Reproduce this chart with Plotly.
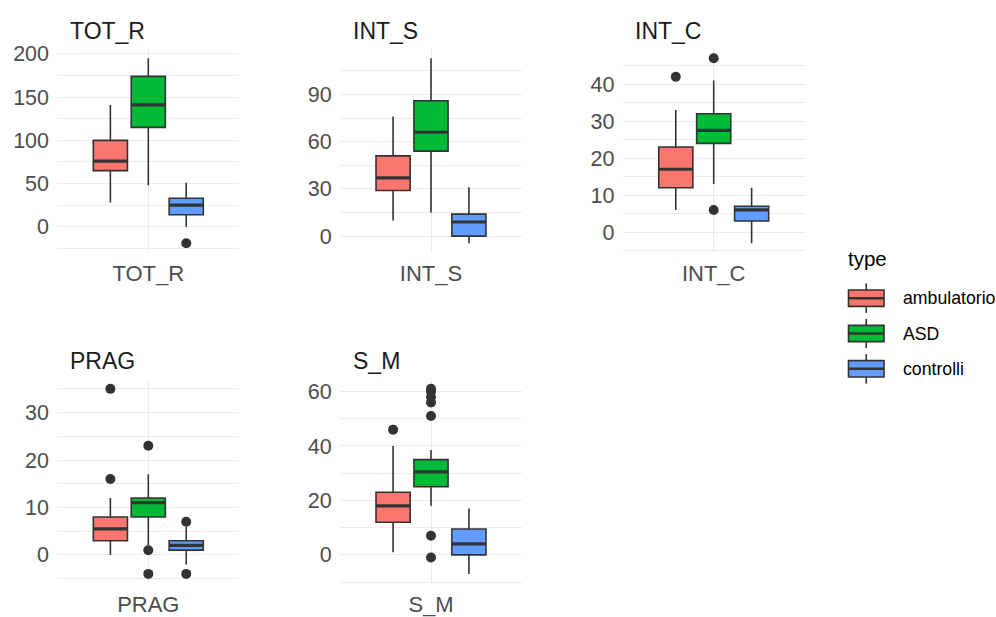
import plotly.graph_objects as go

# Measures (one facet each) and the three subject groups
measures = ["TOT_R", "INT_S", "INT_C", "PRAG", "S_M"]
groups = ["ambulatorio", "ASD", "controlli"]

# Box statistics per group, listed in the order of `measures`
amb_lower = [28, 10, 6, 0, 1]
amb_q1 = [65, 29, 12, 3, 12]
amb_median = [76, 37, 17, 5.5, 18]
amb_q3 = [100, 51, 23, 8, 23]
amb_upper = [141, 76, 33, 12, 40]
amb_outliers = [[], [], [42], [35, 16], [46]]

asd_lower = [48, 15, 13, 2, 18]
asd_q1 = [115, 54, 24, 8, 25]
asd_median = [141, 66, 27.5, 11, 30.5]
asd_q3 = [174, 86, 32, 12, 35]
asd_upper = [195, 113, 41, 17, 38.5]
asd_outliers = [[], [], [47, 6], [23, 1, -4], [61, 60, 58, 56, 51, 7, -1]]

ctl_lower = [0, -4.5, -3, -2, -7]
ctl_q1 = [14, 0, 3, 1, 0]
ctl_median = [25, 9, 6, 2, 4]
ctl_q3 = [33, 14, 7, 3, 9.5]
ctl_upper = [51, 31, 12, 6, 17]
ctl_outliers = [[-19], [], [], [7, -4], []]

# Major tick step of each facet's y scale
y_steps = [50, 30, 10, 10, 20]

stats = {
    "ambulatorio": (amb_lower, amb_q1, amb_median, amb_q3, amb_upper, amb_outliers),
    "ASD": (asd_lower, asd_q1, asd_median, asd_q3, asd_upper, asd_outliers),
    "controlli": (ctl_lower, ctl_q1, ctl_median, ctl_q3, ctl_upper, ctl_outliers),
}

# ---- styling ----
FONT = "Liberation Sans, Arial, Helvetica, sans-serif"
FILLS = {"ambulatorio": "#F8766D", "ASD": "#00BA38", "controlli": "#619CFF"}
EDGE = "#333333"
GRID = "#EBEBEB"
W, H = 996, 617

# facet placement in pixels (left, top); each panel 182 x 207.6
PANEL_W, PANEL_H = 182.0, 207.6
panel_pos = [(57.3, 43.8), (340.0, 43.8), (622.7, 43.8), (57.3, 381.0), (340.0, 381.0)]
dodge = [-0.25, 0.0, 0.25]
box_w = 0.225


def px_x(x):
    return x / W


def px_y(y):
    return 1 - y / H


fig = go.Figure()
layout_axes = {}
annotations = []

for i, m in enumerate(measures):
    k = "" if i == 0 else str(i + 1)
    xref, yref = "x" + k, "y" + k

    lows, highs = [], []
    for gi, g in enumerate(groups):
        lo, q1, md, q3, hi, outs = stats[g]
        xc = 1 + dodge[gi]
        fig.add_trace(go.Box(
            x=[xc], q1=[q1[i]], median=[md[i]], q3=[q3[i]],
            lowerfence=[lo[i]], upperfence=[hi[i]],
            width=box_w, whiskerwidth=0,
            fillcolor=FILLS[g], line=dict(color=EDGE, width=1.6),
            name=g, showlegend=False, xaxis=xref, yaxis=yref,
            hoverinfo="skip",
        ))
        # heavier median bar
        fig.add_trace(go.Scatter(
            x=[xc - box_w / 2, xc + box_w / 2], y=[md[i], md[i]],
            mode="lines", line=dict(color=EDGE, width=3.2),
            showlegend=False, xaxis=xref, yaxis=yref, hoverinfo="skip",
        ))
        if outs[i]:
            fig.add_trace(go.Scatter(
                x=[xc] * len(outs[i]), y=outs[i], mode="markers",
                marker=dict(color=EDGE, size=10, line=dict(width=0)),
                showlegend=False, xaxis=xref, yaxis=yref, hoverinfo="skip",
            ))
        lows += [lo[i]] + outs[i]
        highs += [hi[i]] + outs[i]

    ymin, ymax = min(lows), max(highs)
    pad = 0.05 * (ymax - ymin)

    left, top = panel_pos[i]
    xdom = [px_x(left), px_x(left + PANEL_W)]
    ydom = [px_y(top + PANEL_H), px_y(top)]
    step = y_steps[i]

    layout_axes["xaxis" + k] = dict(
        domain=xdom, range=[0.4, 1.6], anchor=yref,
        tickmode="array", tickvals=[1], ticktext=[m],
        showgrid=True, gridcolor=GRID, gridwidth=1.2,
        zeroline=False, showline=False,
        ticks="outside", ticklen=1, tickcolor="rgba(0,0,0,0)",
        tickfont=dict(family=FONT, size=22, color="#4D4D4D"),
        fixedrange=True,
    )
    layout_axes["yaxis" + k] = dict(
        domain=ydom, range=[ymin - pad, ymax + pad], anchor=xref,
        tick0=0, dtick=step,
        showgrid=True, gridcolor=GRID, gridwidth=1.2,
        minor=dict(tick0=0, dtick=step / 2, showgrid=True,
                   gridcolor=GRID, gridwidth=0.8),
        zeroline=False, showline=False,
        ticks="outside", ticklen=3, tickcolor="rgba(0,0,0,0)",
        tickfont=dict(family=FONT, size=21.5, color="#4D4D4D"),
        fixedrange=True,
    )
    annotations.append(dict(
        text=m, xref="paper", yref="paper",
        x=px_x(left + 10.5), y=px_y(top - 18.8),
        xanchor="left", yanchor="middle", showarrow=False,
        font=dict(family=FONT, size=23, color="#1A1A1A"),
    ))

# ---- legend keys ("type") ----
shapes = []
annotations.append(dict(
    text="type", xref="paper", yref="paper",
    x=px_x(846), y=px_y(258), xanchor="left", yanchor="middle",
    showarrow=False, font=dict(family=FONT, size=20.5, color="#000000"),
))
key_centers = [298, 334, 370]
for g, cy in zip(groups, key_centers):
    kx0, kx1 = 848.5, 884.0
    kxm = (kx0 + kx1) / 2
    shapes.append(dict(type="line", xref="paper", yref="paper",
                       x0=px_x(kxm), x1=px_x(kxm), y0=px_y(cy - 15), y1=px_y(cy + 15),
                       line=dict(color=EDGE, width=1.6)))
    shapes.append(dict(type="rect", xref="paper", yref="paper",
                       x0=px_x(kx0), x1=px_x(kx1), y0=px_y(cy + 8.3), y1=px_y(cy - 8.3),
                       fillcolor=FILLS[g], line=dict(color=EDGE, width=1.6)))
    shapes.append(dict(type="line", xref="paper", yref="paper",
                       x0=px_x(kx0), x1=px_x(kx1), y0=px_y(cy), y1=px_y(cy),
                       line=dict(color=EDGE, width=2.4)))
    annotations.append(dict(
        text=g, xref="paper", yref="paper",
        x=px_x(900.5), y=px_y(cy), xanchor="left", yanchor="middle",
        showarrow=False, font=dict(family=FONT, size=17.7, color="#000000"),
    ))

fig.update_layout(
    width=W, height=H,
    margin=dict(l=0, r=0, t=0, b=0),
    paper_bgcolor="white", plot_bgcolor="white",
    boxmode="overlay", showlegend=False,
    annotations=annotations, shapes=shapes,
    font=dict(family=FONT),
    **layout_axes,
)

fig.write_html("out.html", config={"displayModeBar": False})
